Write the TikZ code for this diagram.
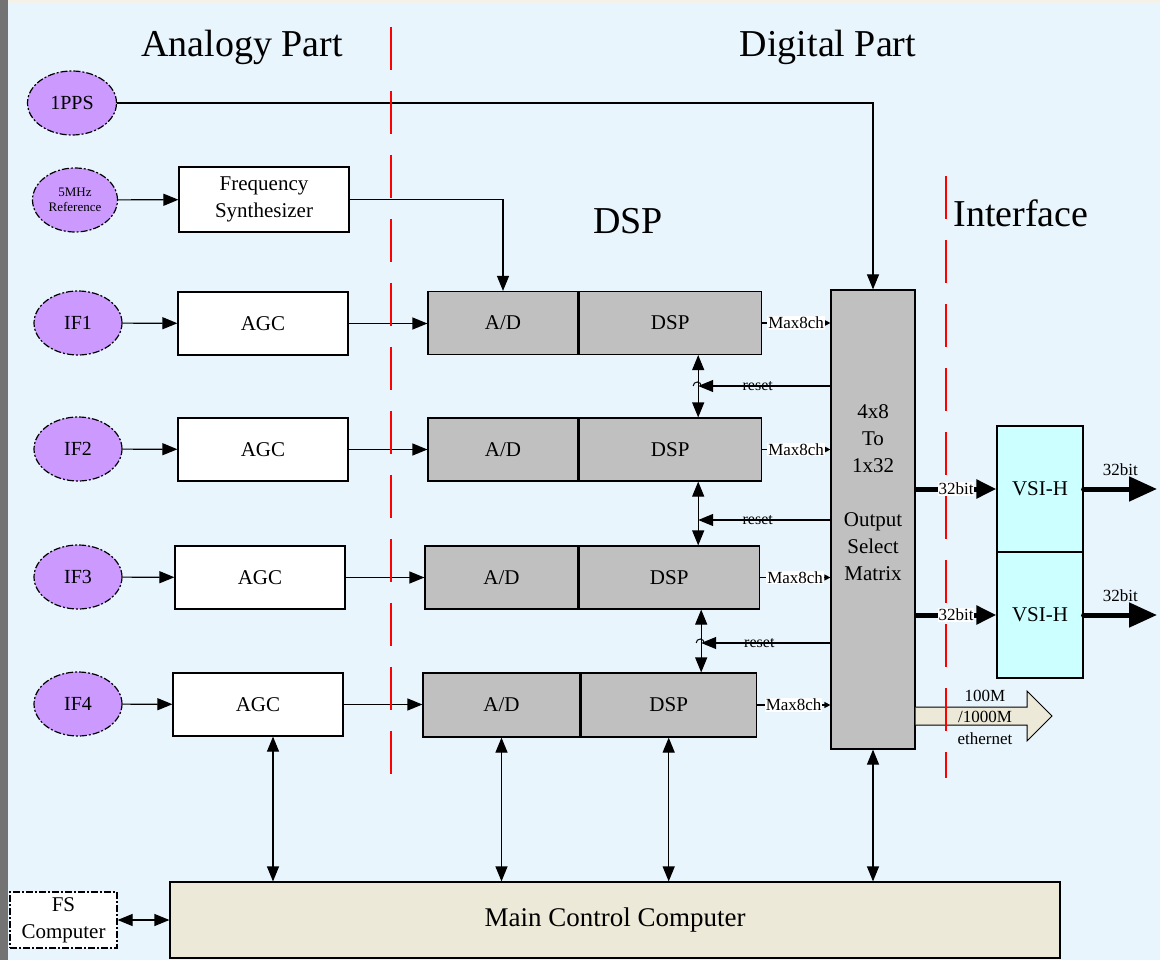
\documentclass[tikz,border=0pt]{standalone}
\usepackage{fontspec}
\setmainfont{Liberation Serif}
\usetikzlibrary{shapes.geometric, arrows.meta}
\definecolor{sky}{HTML}{E8F5FD}
\definecolor{lilac}{HTML}{CC99FF}
\definecolor{boxgray}{HTML}{C0C0C0}
\definecolor{vsicyan}{HTML}{CCFFFF}
\definecolor{cream}{HTML}{ECE9D8}
\tikzstyle{source} = [ellipse, draw, fill=lilac, dash pattern=on 7pt off 2pt on 2pt off 2pt, minimum width=88pt, minimum height=64pt, inner sep=0pt, font=\fontsize{20pt}{24pt}\selectfont]
\tikzstyle{block} = [rectangle, draw, fill=white, text centered, align=center, minimum width=170pt, minimum height=63pt, font=\fontsize{21pt}{27pt}\selectfont]
\tikzstyle{unit} = [rectangle, draw, fill=boxgray, minimum height=63pt, font=\fontsize{21pt}{27pt}\selectfont]
\tikzstyle{title} = [font=\fontsize{38pt}{44pt}\selectfont]
\tikzstyle{tag} = [inner sep=1pt, font=\fontsize{17pt}{20pt}\selectfont]
\tikzstyle{arrow} = [-{Triangle[length=15pt,width=12pt]}]
\tikzstyle{both} = [{Triangle[length=15pt,width=12pt]}-{Triangle[length=15pt,width=12pt]}]
\tikzstyle{small} = [-{Triangle[length=6pt,width=6pt]}]
\tikzstyle{wide} = [line width=5pt, -{Triangle[length=20pt,width=18pt]}]
\tikzstyle{divider} = [red, line width=2.5pt, dash pattern=on 43pt off 21pt]

\begin{document}
\begin{tikzpicture}[x=1pt, y=-1pt, line width=1.2pt]

  % page
  \useasboundingbox (0,0) rectangle (1160,960);
  \fill [sky] (0,0) rectangle (1160,960);
  \fill [cream!60!white] (0,0) rectangle (1160,3);
  \fill [gray!90!black] (0,0) rectangle (8,960);

  % headings
  \node (analog) [title] at (242,47) {Analogy Part};
  \node (digital) [title] at (828,47) {Digital Part};
  \node (dsphead) [title] at (628,221) {DSP};
  \node (iface) [title] at (1021,213) {Interface};

  % inputs
  \node (pps) [source, minimum width=89pt] at (72,103) {1PPS};
  \node (ref) [source, minimum width=85pt, align=center, font=\fontsize{13pt}{15pt}\selectfont] at (75,200) {5MHz\\Reference};
  \node (if1) [source] at (78,323) {IF1};
  \node (if2) [source] at (78,449) {IF2};
  \node (if3) [source] at (78,577) {IF3};
  \node (if4) [source] at (78,704) {IF4};

  % analog side
  \node (synth) [block, minimum height=65pt] at (264,199.5) {Frequency\\Synthesizer};
  \node (agc1) [block] at (263,323.5) {AGC};
  \node (agc2) [block] at (263,449.5) {AGC};
  \node (agc3) [block] at (260,577.5) {AGC};
  \node (agc4) [block] at (258,704.5) {AGC};

  % converters and dsp
  \node (ad1) [unit, minimum width=150pt] at (503,323) {A/D};
  \node (dsp1) [unit, minimum width=182pt, anchor=west] at (ad1.east) {DSP};
  \node (ad2) [unit, minimum width=150pt] at (503,449.5) {A/D};
  \node (dsp2) [unit, minimum width=182pt, anchor=west] at (ad2.east) {DSP};
  \node (ad3) [unit, minimum width=153pt] at (501.5,577.5) {A/D};
  \node (dsp3) [unit, minimum width=180pt, anchor=west] at (ad3.east) {DSP};
  \node (ad4) [unit, minimum width=157pt, minimum height=64pt] at (501.5,705) {A/D};
  \node (dsp4) [unit, minimum width=175pt, minimum height=64pt, anchor=west] at (ad4.east) {DSP};

  \node (mtx) [unit, minimum width=84pt, minimum height=459pt] at (873,519.5) {};
  \node (mtxtext) [align=center, font=\fontsize{21pt}{27pt}\selectfont] at (873,492.5) {4x8\\To\\1x32\\[27pt]Output\\Select\\Matrix};

  % interface
  \node (vsi1) [rectangle, draw, fill=vsicyan, minimum width=86pt, minimum height=126pt, font=\fontsize{21pt}{27pt}\selectfont] at (1040,489) {VSI-H};
  \node (vsi2) [rectangle, draw, fill=vsicyan, minimum width=86pt, minimum height=126pt, font=\fontsize{21pt}{27pt}\selectfont] at (1040,615) {VSI-H};
  \coordinate (out1) at (1157,489);
  \coordinate (out2) at (1157,615);

  % control
  \node (mcc) [rectangle, draw, fill=cream, minimum width=890pt, minimum height=76pt, font=\fontsize{27pt}{32pt}\selectfont] at (615,920) {Main Control Computer};
  \node (fs) [rectangle, draw, fill=white, dash pattern=on 7pt off 2pt on 2pt off 2pt, minimum width=107pt, minimum height=56pt, align=center, font=\fontsize{21pt}{27pt}\selectfont] at (63.5,920) {FS\\Computer};

  % timing
  \draw [arrow] (pps) -| (mtx.north);
  \draw [arrow] (ref) -- (synth);
  \draw [arrow] (synth) -| (ad1.north);

  % signal chain
  \draw [arrow] (if1) -- (agc1);
  \draw [arrow] (if2) -- (agc2);
  \draw [arrow] (if3) -- (agc3);
  \draw [arrow] (if4) -- (agc4);
  \draw [arrow] (agc1.east) -- (agc1.east -| ad1.west);
  \draw [arrow] (agc2.east) -- (agc2.east -| ad2.west);
  \draw [arrow] (agc3.east) -- (agc3.east -| ad3.west);
  \draw [arrow] (agc4.east) -- (agc4.east -| ad4.west);

  \draw [small] (dsp1.east) -- node[tag, fill=white] {Max8ch} (dsp1.east -| mtx.west);
  \draw [small] (dsp2.east) -- node[tag, fill=white] {Max8ch} (dsp2.east -| mtx.west);
  \draw [small] (dsp3.east) -- node[tag, fill=white] {Max8ch} (dsp3.east -| mtx.west);
  \draw [small] (dsp4.east) -- node[tag, fill=white] {Max8ch} (dsp4.east -| mtx.west);

  % dsp links and resets
  \coordinate (link1) at ([xshift=28pt]dsp1.south);
  \coordinate (link2) at ([xshift=28pt]dsp2.south);
  \coordinate (link3) at ([xshift=32pt]dsp3.south);
  \draw [both] (link1) -- (link1 |- dsp2.north);
  \draw [both] (link2) -- (link2 |- dsp3.north);
  \draw [both] (link3) -- (link3 |- dsp4.north);

  \coordinate (hop1) at (link1 |- 0,386);
  \coordinate (hop2) at (link2 |- 0,520);
  \coordinate (hop3) at (link3 |- 0,643);
  \draw [arrow] (mtx.west |- hop1) -- node[tag, pos=0.55, font=\fontsize{16pt}{19pt}\selectfont] {reset} (hop1);
  \draw [arrow] (mtx.west |- hop2) -- node[tag, pos=0.55, font=\fontsize{16pt}{19pt}\selectfont] {reset} (hop2);
  \draw [arrow] (mtx.west |- hop3) -- node[tag, pos=0.55, font=\fontsize{16pt}{19pt}\selectfont] {reset} (hop3);
  \draw [line width=1pt] ([xshift=-5pt]hop1) arc[start angle=180, end angle=0, radius=4pt];
  \draw [line width=1pt] ([xshift=-5pt]hop3) arc[start angle=180, end angle=0, radius=4pt];

  % outputs
  \draw [wide] (mtx.east |- vsi1) -- node[tag, fill=white] {32bit} (vsi1.west);
  \draw [wide] (mtx.east |- vsi2) -- node[tag, fill=white] {32bit} (vsi2.west);
  \draw [wide, line cap=round, -{Triangle[length=28pt,width=24pt]}] (vsi1.east) -- node[tag, above=10pt] {32bit} (out1);
  \draw [wide, line cap=round, -{Triangle[length=28pt,width=24pt]}] (vsi2.east) -- node[tag, above=10pt] {32bit} (out2);

  \draw [fill=cream, line width=1pt] (mtx.east |- 0,707) -- (1027,707) -- (1027,691) -- (1052,716) -- (1027,741) -- (1027,725) -- (mtx.east |- 0,725);
  \node (eth) [align=center, font=\fontsize{17pt}{21.5pt}\selectfont] at (985,717) {100M\\/1000M\\ethernet};

  % control bus
  \coordinate (agcbus) at ([xshift=15pt]agc4.south);
  \draw [both] (agcbus) -- (agcbus |- mcc.north);
  \draw [both] (ad4.south) -- (ad4.south |- mcc.north);
  \draw [both] (dsp4.south) -- (dsp4.south |- mcc.north);
  \draw [both] (mtx.south) -- (mtx.south |- mcc.north);
  \draw [both] (fs.east) -- (fs.east -| mcc.west);

  % part boundaries
  \draw [divider] (391,27) -- (391,775);
  \draw [divider] (946,176) -- (946,778);

\end{tikzpicture}
\end{document}
